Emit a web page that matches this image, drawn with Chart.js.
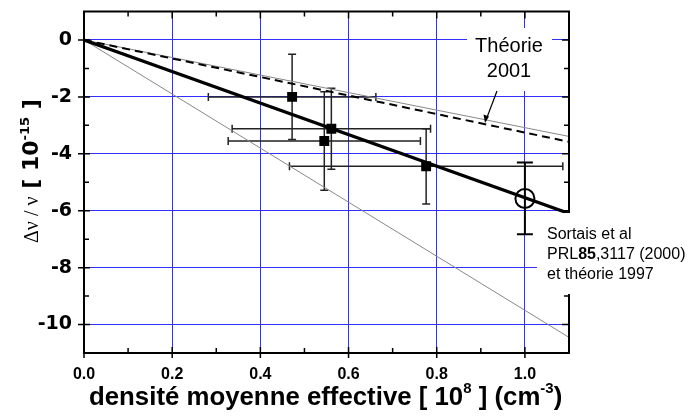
<!DOCTYPE html>
<html>
<head>
	<meta charset="UTF-8">
	<title>densite effective</title>
	<script src="https://cdn.jsdelivr.net/npm/chart.js"></script>
	<style>
	body{margin:0; background:#fff;}
	</style>
</head>
<body>
	<canvas id="myChart" width="690" height="417"></canvas>
	<script>
	// mesures (carres) + barres d'erreur
	var sqX = [0.472, 0.561, 0.545, 0.776];
	var sqY = [-2.0, -3.12, -3.55, -4.44];
	var sqErrX = [0.19, 0.225, 0.218, 0.31];
	var sqErrY = [1.5, 1.42, 1.73, 1.32];
	// Sortais et al (cercle)
	var circX = [1.0];
	var circY = [-5.57];
	var circErrY = [1.26];
	// droites depuis l'origine
	var lineX = [0, 1.1];
	var fitY = [0, -6.1];
	var theo2001Y = [0, -3.58];
	var upperY = [0, -3.39];
	var lowerY = [0, -10.45];
	// graduations
	var xTicks = [0, 0.2, 0.4, 0.6, 0.8, 1.0];
	var yTicks = [-10, -8, -6, -4, -2, 0];
	var xMinor = [0.1, 0.3, 0.5, 0.7, 0.9];
	var yMinor = [-9, -7, -5, -3, -1];

	function pts(xs, ys){
		var out = [];
		for (var i = 0; i < xs.length; i++) out.push({x: xs[i], y: ys[i]});
		return out;
	}

	var errPlugin = {
		id: 'errbars',
		beforeDatasetsDraw: function(chart){
			var ctx = chart.ctx, sx = chart.scales.x, sy = chart.scales.y;
			ctx.save();
			ctx.strokeStyle = '#222';
			ctx.lineWidth = 1.5;
			for (var i = 0; i < sqX.length; i++){
				var px = sx.getPixelForValue(sqX[i]), py = sy.getPixelForValue(sqY[i]);
				var x0 = sx.getPixelForValue(sqX[i] - sqErrX[i]), x1 = sx.getPixelForValue(sqX[i] + sqErrX[i]);
				var y0 = sy.getPixelForValue(sqY[i] + sqErrY[i]), y1 = sy.getPixelForValue(sqY[i] - sqErrY[i]);
				ctx.beginPath();
				ctx.moveTo(x0, py); ctx.lineTo(x1, py);
				ctx.moveTo(x0, py - 4); ctx.lineTo(x0, py + 4);
				ctx.moveTo(x1, py - 4); ctx.lineTo(x1, py + 4);
				ctx.moveTo(px, y0); ctx.lineTo(px, y1);
				ctx.moveTo(px - 4, y0); ctx.lineTo(px + 4, y0);
				ctx.moveTo(px - 4, y1); ctx.lineTo(px + 4, y1);
				ctx.stroke();
			}
			ctx.strokeStyle = '#000';
			ctx.lineWidth = 2;
			for (var j = 0; j < circX.length; j++){
				var cx = sx.getPixelForValue(circX[j]);
				var cy0 = sy.getPixelForValue(circY[j] + circErrY[j]), cy1 = sy.getPixelForValue(circY[j] - circErrY[j]);
				ctx.beginPath();
				ctx.moveTo(cx, cy0); ctx.lineTo(cx, cy1);
				ctx.moveTo(cx - 8, cy0); ctx.lineTo(cx + 8, cy0);
				ctx.moveTo(cx - 8, cy1); ctx.lineTo(cx + 8, cy1);
				ctx.stroke();
			}
			ctx.restore();
		}
	};

	// cadre + petites graduations sur les 4 cotes
	var framePlugin = {
		id: 'frame',
		afterDatasetsDraw: function(chart){
			var ctx = chart.ctx, a = chart.chartArea, sx = chart.scales.x, sy = chart.scales.y;
			ctx.save();
			ctx.strokeStyle = '#000';
			ctx.lineWidth = 1.5;
			ctx.beginPath();
			xTicks.forEach(function(v){
				var p = sx.getPixelForValue(v);
				ctx.moveTo(p, a.bottom + 5); ctx.lineTo(p, a.bottom - 6);
				ctx.moveTo(p, a.top); ctx.lineTo(p, a.top + 7);
			});
			xMinor.forEach(function(v){
				var p = sx.getPixelForValue(v);
				ctx.moveTo(p, a.bottom); ctx.lineTo(p, a.bottom - 5);
				ctx.moveTo(p, a.top); ctx.lineTo(p, a.top + 5);
			});
			yTicks.forEach(function(v){
				var p = sy.getPixelForValue(v);
				ctx.moveTo(a.left - 6, p); ctx.lineTo(a.left + 6, p);
				ctx.moveTo(a.right - 7, p); ctx.lineTo(a.right, p);
			});
			yMinor.forEach(function(v){
				var p = sy.getPixelForValue(v);
				ctx.moveTo(a.left, p); ctx.lineTo(a.left + 5, p);
				ctx.moveTo(a.right - 5, p); ctx.lineTo(a.right, p);
			});
			ctx.stroke();
			ctx.lineWidth = 2;
			ctx.strokeRect(a.left, a.top, a.right - a.left, a.bottom - a.top);
			ctx.restore();
		}
	};

	function drawParts(ctx, x, y, parts){
		parts.forEach(function(p){
			ctx.font = p.font;
			ctx.fillText(p.t, x, y - (p.up || 0));
			x += ctx.measureText(p.t).width;
		});
	}

	var textPlugin = {
		id: 'labels',
		afterDraw: function(chart){
			var ctx = chart.ctx;
			ctx.save();
			ctx.fillStyle = '#000';
			ctx.textBaseline = 'alphabetic';
			// titre axe x
			drawParts(ctx, 89, 405, [
				{t: 'densité moyenne effective [ 10', font: 'bold 25.8px Arial'},
				{t: '8', font: 'bold 15px Arial', up: 12},
				{t: ' ] (cm', font: 'bold 25.8px Arial'},
				{t: '-3', font: 'bold 15px Arial', up: 12},
				{t: ')', font: 'bold 25.8px Arial'}
			]);
			// titre axe y
			ctx.save();
			ctx.translate(38, 243);
			ctx.rotate(-Math.PI / 2);
			drawParts(ctx, 0, 0, [
				{t: 'Δν / ν', font: '20px "Liberation Serif"'},
				{t: ' [ 10', font: 'bold 22px "DejaVu Sans"'},
				{t: '-15', font: 'bold 13px "DejaVu Sans"', up: 9},
				{t: ' ]', font: 'bold 22px "DejaVu Sans"'}
			]);
			ctx.restore();

			// Théorie 2001
			ctx.fillStyle = '#fff';
			ctx.fillRect(467, 28, 85, 63);
			ctx.fillStyle = '#000';
			ctx.font = '20px Arial';
			ctx.textAlign = 'center';
			ctx.fillText('Théorie', 509, 52);
			ctx.fillText('2001', 509, 77);
			ctx.strokeStyle = '#000';
			ctx.lineWidth = 1.2;
			ctx.beginPath();
			ctx.moveTo(497, 91); ctx.lineTo(486, 120);
			ctx.stroke();
			ctx.beginPath();
			ctx.moveTo(485, 123); ctx.lineTo(483.5, 114.5); ctx.lineTo(489, 116.5);
			ctx.closePath();
			ctx.fill();

			// Sortais et al
			ctx.fillStyle = '#fff';
			ctx.fillRect(537, 213, 153, 81);
			ctx.fillStyle = '#000';
			ctx.textAlign = 'left';
			ctx.font = '16px Arial';
			ctx.fillText('Sortais et al', 547, 239);
			drawParts(ctx, 547, 259, [
				{t: 'PRL', font: '16px Arial'},
				{t: '85', font: 'bold 16px Arial'},
				{t: ',3117 (2000)', font: '16px Arial'}
			]);
			ctx.font = '16px Arial';
			ctx.fillText('et théorie 1997', 547, 278.5);
			ctx.restore();
		}
	};

	var blue = '#2f2fff';
	const ctx = document.getElementById('myChart');
	new Chart(ctx, {
		type: 'scatter',
		data: {
			datasets: [{
				data: pts(sqX, sqY),
				pointStyle: 'rect',
				pointRadius: 7,
				backgroundColor: '#000',
				borderWidth: 0
			}, {
				data: pts(circX, circY),
				pointStyle: 'circle',
				pointRadius: 9.5,
				backgroundColor: 'rgba(0,0,0,0)',
				borderColor: '#000',
				borderWidth: 2
			}, {
				data: pts(lineX, fitY),
				showLine: true,
				pointRadius: 0,
				borderColor: '#000',
				borderWidth: 3.2
			}, {
				data: pts(lineX, theo2001Y),
				showLine: true,
				pointRadius: 0,
				borderColor: '#000',
				borderWidth: 2,
				borderDash: [8, 5]
			}, {
				data: pts(lineX, upperY),
				showLine: true,
				pointRadius: 0,
				borderColor: '#888',
				borderWidth: 1
			}, {
				data: pts(lineX, lowerY),
				showLine: true,
				pointRadius: 0,
				borderColor: '#888',
				borderWidth: 1
			}]
		},
		options: {
			responsive: false,
			animation: false,
			devicePixelRatio: 1,
			events: [],
			layout: {padding: {top: 7, right: 121, left: 0, bottom: 0}},
			plugins: {legend: {display: false}, tooltip: {enabled: false}},
			scales: {
				x: {
					type: 'linear',
					min: 0,
					max: 1.1,
					afterBuildTicks: function(s){ s.ticks = xTicks.map(function(v){ return {value: v}; }); },
					afterFit: function(s){ s.height = 64; s.paddingLeft = 0; s.paddingRight = 0; },
					ticks: {
						autoSkip: false,
						maxRotation: 0,
						padding: 12,
						color: '#000',
						font: {family: 'Arial', size: 16, weight: 'bold'},
						callback: function(v){ return v.toFixed(1); }
					},
					grid: {color: blue, lineWidth: 1, drawTicks: false},
					border: {display: false}
				},
				y: {
					type: 'linear',
					min: -11,
					max: 1,
					afterBuildTicks: function(s){ s.ticks = yTicks.map(function(v){ return {value: v}; }); },
					afterFit: function(s){ s.width = 84; s.paddingTop = 0; s.paddingBottom = 0; },
					ticks: {
						padding: 12,
						color: '#000',
						font: {family: 'DejaVu Sans', size: 19, weight: 'bold'},
						callback: function(v){ return String(v); }
					},
					grid: {color: blue, lineWidth: 1, drawTicks: false},
					border: {display: false}
				}
			}
		},
		plugins: [errPlugin, framePlugin, textPlugin]
	});
	</script>
</body>
</html>
